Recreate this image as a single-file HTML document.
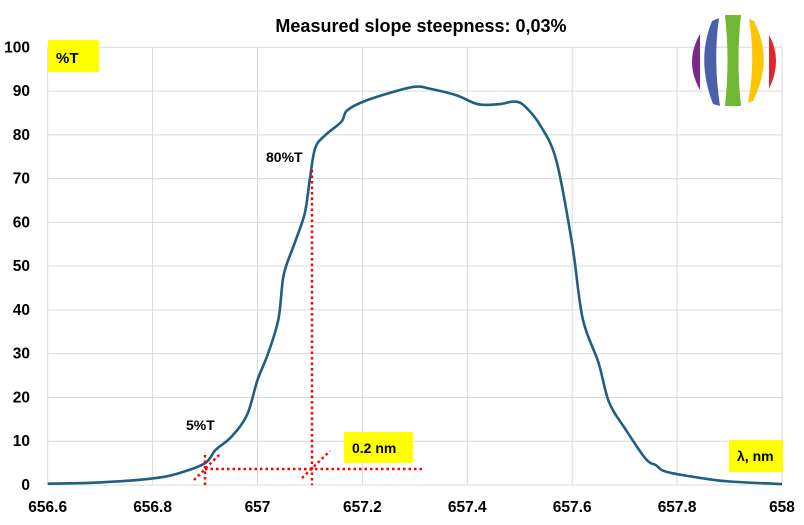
<!DOCTYPE html><html><head><style>body{margin:0;background:#fff}svg{display:block;font-family:"Liberation Sans",Arial,sans-serif}</style></head><body>
<svg id="s" width="804" height="525" viewBox="0 0 804 525">
<text x="421" y="32" text-anchor="middle" font-size="18" font-weight="bold">Measured slope steepness: 0,03%</text>
<g id="grid" stroke="#d9d9d9" stroke-width="1"></g>
<g id="lab" font-size="15.5" font-weight="bold"></g>
<path id="c" fill="none" stroke="#1f5f80" stroke-width="2.6" stroke-linejoin="round"/>
<g stroke="#f00" stroke-width="2.5" stroke-dasharray="2.5 3" fill="none">
<line x1="312" y1="170" x2="312" y2="485"/>
<line x1="205" y1="469" x2="423" y2="469"/>
<line x1="205" y1="455" x2="205" y2="485"/>
<line x1="194" y1="480" x2="220" y2="454"/>
<line x1="302" y1="478" x2="330" y2="451"/>
</g>
<rect x="48" y="40" width="51" height="32" fill="#ffff00"/>
<text x="56" y="63" font-size="15" font-weight="bold">%T</text>
<rect x="344" y="432" width="69" height="31" fill="#ffff00"/>
<text x="352" y="453" font-size="14" font-weight="bold">0.2 nm</text>
<rect x="729" y="440" width="54" height="32" fill="#ffff00"/>
<text x="737" y="461" font-size="14" font-weight="bold">λ, nm</text>
<text x="266" y="162" font-size="14" font-weight="bold">80%T</text>
<text x="186" y="430" font-size="14" font-weight="bold">5%T</text>
<g>
<path d="M700 34 Q684 62 700 90 Z" fill="#7b2a8a"/>
<path d="M719 18 L712 21 Q696 60 713 104 L720 106 Q713 60 719 18Z" fill="#4a60a8"/>
<path d="M725 15 L741 15 Q736 60 741 106 L725 106 Q730 60 725 15Z" fill="#6fb834"/>
<path d="M749 19 L754 21 Q774 60 753 101 L748 103 Q756 60 749 19Z" fill="#ffc400"/>
<path d="M769 35 Q783 60 769 89 Z" fill="#e52229"/>
</g>
</svg>
<script>
var L=47.7,R=782,B=485,T=47.3;
function X(v){return L+(v-656.6)/1.4*(R-L)}function Y(v){return B-v/100*(B-T)}
var g=document.getElementById('grid'),lb=document.getElementById('lab'),h='';
var xl=['656.6','656.8','657','657.2','657.4','657.6','657.8','658'];
for(var i=0;i<8;i++){var x=L+i*(R-L)/7;h+='<line x1="'+x+'" y1="'+T+'" x2="'+x+'" y2="'+B+'"/>';}
for(var j=0;j<=10;j++){var y=Y(j*10);h+='<line x1="'+L+'" y1="'+y+'" x2="'+R+'" y2="'+y+'"/>';}
g.innerHTML=h;var t='';
for(var i=0;i<8;i++){t+='<text x="'+(L+i*(R-L)/7)+'" y="512" text-anchor="middle">'+xl[i]+'</text>';}
for(var j=0;j<=10;j++){t+='<text x="30" y="'+(Y(j*10)+5)+'" text-anchor="end">'+(j*10)+'</text>';}
lb.innerHTML=t;
var d=[[656.6,0.3],[656.7,0.6],[656.8,1.5],[656.85,2.7],[656.9,5],[656.92,8],[656.95,11],[656.98,16],[657,24],[657.02,30],[657.04,38],[657.05,48],[657.07,55],[657.09,62],[657.1,70],[657.11,77],[657.13,80],[657.16,83],[657.17,85.5],[657.2,87.5],[657.25,89.5],[657.3,91],[657.33,90.5],[657.38,89],[657.42,87],[657.46,87],[657.49,87.6],[657.51,86.5],[657.54,82],[657.57,74],[657.6,55],[657.62,38],[657.65,28],[657.67,19],[657.7,13],[657.74,6],[657.76,4.5],[657.78,3],[657.85,1.5],[657.9,0.8],[658,0.2]];
var P=d.map(function(q){return[X(q[0]),Y(q[1])]});
var p='M'+P[0][0].toFixed(1)+' '+P[0][1].toFixed(1);
for(var k=0;k<P.length-1;k++){var a=P[k-1]||P[k],b=P[k],c=P[k+1],e=P[k+2]||c;
p+='C'+(b[0]+(c[0]-a[0])/6).toFixed(1)+' '+(b[1]+(c[1]-a[1])/6).toFixed(1)+' '+(c[0]-(e[0]-b[0])/6).toFixed(1)+' '+(c[1]-(e[1]-b[1])/6).toFixed(1)+' '+c[0].toFixed(1)+' '+c[1].toFixed(1);}
document.getElementById('c').setAttribute('d',p);
</script>
</body></html>
